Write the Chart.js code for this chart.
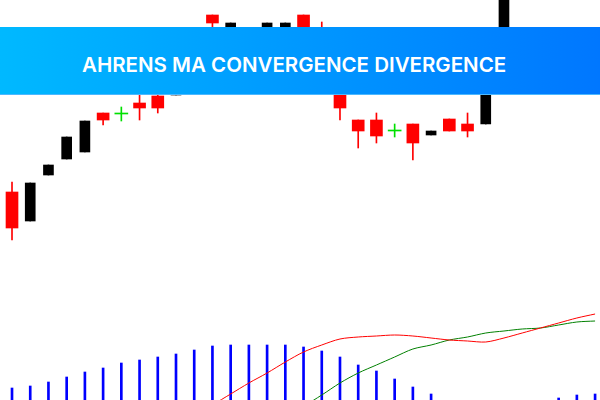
<!DOCTYPE html>
<html>
<head>
<meta charset="utf-8">
<script src="https://cdn.jsdelivr.net/npm/chart.js"></script>
<style>
  html, body { margin: 0; padding: 0; background: #fff; }
  #wrap { position: relative; width: 600px; height: 400px; overflow: hidden; }
  #banner {
    position: absolute; left: 0; top: 27px; width: 600px; height: 67px;
    background: linear-gradient(to right, #00b9ff, #0077ff);
    border-bottom: 1px solid #4cb8ff;
  }
  #banner span {
    position: absolute; left: 82px; top: 28px;
    font-family: Inter, sans-serif; font-weight: 600; font-size: 20.5px; line-height: 20px;
    color: #fff; white-space: nowrap;
  }
</style>
</head>
<body>
<div id="wrap">
  <canvas id="chart" width="600" height="400"></canvas>
  <div id="banner"><span>AHRENS MA CONVERGENCE DIVERGENCE</span></div>
</div>
<script>
// price candles, one entry per bar
const opens  = [1.1008, 1.0979, 1.1025, 1.1041, 1.1048, 1.1087, 1.1086, 1.1097, 1.1104, 1.1105, 1.1140,
                1.1185, 1.1150, 1.1172, 1.1152, 1.1155, 1.1185, 1.1160, 1.1125, 1.1080, 1.1080, 1.1069,
                1.1076, 1.1065, 1.1081, 1.1076, 1.1076, 1.1150, 1.1235, 1.1285, 1.1330, 1.1300, 1.1345];
const highs  = [1.1018, 1.1017, 1.1035, 1.1063, 1.1079, 1.1087, 1.1093, 1.1112, 1.1110, 1.1145, 1.1170,
                1.1185, 1.1177, 1.1172, 1.1177, 1.1177, 1.1185, 1.1178, 1.1130, 1.1080, 1.1087, 1.1076,
                1.1076, 1.1069, 1.1081, 1.1087, 1.1160, 1.1245, 1.1295, 1.1335, 1.1335, 1.1355, 1.1385];
const lows   = [1.0960, 1.0979, 1.1025, 1.1041, 1.1048, 1.1075, 1.1079, 1.1080, 1.1087, 1.1105, 1.1138,
                1.1155, 1.1150, 1.1150, 1.1152, 1.1155, 1.1150, 1.1125, 1.1080, 1.1052, 1.1057, 1.1063,
                1.1040, 1.1065, 1.1069, 1.1063, 1.1076, 1.1150, 1.1228, 1.1275, 1.1290, 1.1295, 1.1340];
const closes = [1.0972, 1.1017, 1.1035, 1.1063, 1.1079, 1.1080, 1.1086, 1.1092, 1.1092, 1.1140, 1.1165,
                1.1177, 1.1177, 1.1155, 1.1177, 1.1177, 1.1155, 1.1130, 1.1092, 1.1069, 1.1064, 1.1069,
                1.1057, 1.1069, 1.1069, 1.1069, 1.1160, 1.1240, 1.1290, 1.1330, 1.1300, 1.1350, 1.1380];

// indicator window, in points
const histogram  = [42, 44, 48, 53, 58, 62, 67, 70, 73, 76, 80, 84, 85, 85, 85, 85, 83, 79, 73, 65, 59, 51,
                    43, 36, 22, 12, 6, 4, 10, 20, 32, 35, 36];
const macdLine   = [-55, -50, -44, -38, -32, -26, -19, -12, -5, 4, 14, 25, 36, 47, 57, 68, 78, 85, 91, 93, 94, 95,
                    94, 92, 90, 89, 88, 92, 97, 102, 107, 112, 116];
const signalLine = [-90, -85, -80, -74, -68, -62, -55, -48, -40, -32, -24, -16, -8, 0, 10, 17, 24, 35, 47, 57, 65, 73,
                    81, 85, 90, 93, 97, 99, 101, 102, 105, 108, 109];

const RED = "#ff0000", BLACK = "#000000", DOJI = "#00e000";

const bull = [], bear = [], doji = [], wicks = [], wickColors = [];
for (let i = 0; i < opens.length; i++) {
  const body = { x: i, y: [opens[i], closes[i]] };
  let color;
  if (closes[i] > opens[i]) { bull.push(body); color = BLACK; }
  else if (closes[i] < opens[i]) { bear.push(body); color = RED; }
  else { doji.push(body); color = DOJI; }
  wicks.push({ x: i, y: [lows[i], highs[i]] });
  wickColors.push(color);
}
const xy = (arr) => arr.map((v, i) => ({ x: i, y: v }));

new Chart(document.getElementById("chart"), {
  type: "bar",
  data: {
    datasets: [
      { data: xy(histogram), yAxisID: "y2", backgroundColor: "#0000ff", barThickness: 2, grouped: false, order: 3 },
      { type: "line", data: xy(macdLine), yAxisID: "y2", borderColor: RED, borderWidth: 1,
        pointRadius: 0, tension: 0.3, order: 1 },
      { type: "line", data: xy(signalLine), yAxisID: "y2", borderColor: "#008000", borderWidth: 1,
        pointRadius: 0, tension: 0.3, order: 1 },
      { data: wicks, yAxisID: "y", backgroundColor: wickColors, barThickness: 1, grouped: false, order: 2 },
      { data: bear, yAxisID: "y", backgroundColor: RED, barThickness: 12, grouped: false, order: 1 },
      { data: bull, yAxisID: "y", backgroundColor: BLACK, barThickness: 10, grouped: false, order: 1 },
      { data: doji, yAxisID: "y", backgroundColor: DOJI, barThickness: 13, minBarLength: 1, grouped: false, order: 1 },
    ],
  },
  options: {
    responsive: false,
    animation: false,
    layout: { padding: 0 },
    plugins: { legend: { display: false }, tooltip: { enabled: false } },
    scales: {
      x: { type: "linear", min: -0.659, max: 32.27, offset: false, display: false },
      y: { min: 1.08, max: 1.12, display: false },
      y2: { min: 30, max: 430, display: false },
    },
  },
});
</script>
</body>
</html>
